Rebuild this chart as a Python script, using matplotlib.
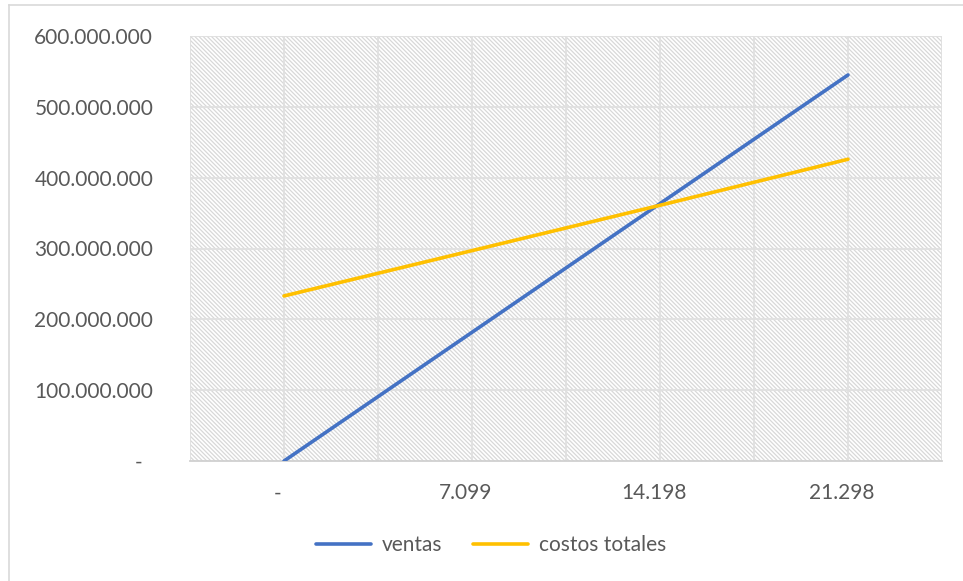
import matplotlib
matplotlib.use("Agg")
import matplotlib.pyplot as plt
from matplotlib.patches import Rectangle
from matplotlib.lines import Line2D
import matplotlib.transforms as mtransforms

categories = ["-", "7.099", "14.198", "21.298"]
ventas = [0, 181_700_000, 363_400_000, 545_000_000]
costos_totales = [233_000_000, 297_000_000, 361_000_000, 426_000_000]
y_ticks = [0, 100_000_000, 200_000_000, 300_000_000, 400_000_000, 500_000_000, 600_000_000]
y_labels = ["-", "100.000.000", "200.000.000", "300.000.000", "400.000.000", "500.000.000", "600.000.000"]

plt.rcParams['font.family'] = ['Lato', 'DejaVu Sans']
plt.rcParams['hatch.linewidth'] = 0.9

W, H = 963, 581
fig = plt.figure(figsize=(W / 100, H / 100), dpi=100)
ax = fig.add_axes([190 / W, 1 - 461 / H, (942 - 190) / W, (461 - 36) / H])

x = list(range(len(categories)))
ax.set_xlim(-0.5, len(categories) - 0.5)
ax.set_ylim(0, 600_000_000)

# hatched plot area
ax.add_patch(Rectangle((0, 0), 1, 1, transform=ax.transAxes, facecolor='white',
                       edgecolor='#D8D8D8', hatch='\\' * 8, linewidth=0, zorder=0))

# gridlines
grid_x = [i * 0.5 - 0.5 for i in range(2 * len(categories) + 1)]
for gx in grid_x:
    ax.axvline(gx, color='#E0E0E0', lw=1.3, zorder=1)
for gy in y_ticks[1:]:
    ax.axhline(gy, color='#E0E0E0', lw=1.3, zorder=1)

ax.plot(x, ventas, color='#4472C4', lw=2.6, solid_capstyle='round', zorder=3, label='ventas')
ax.plot(x, costos_totales, color='#FFC000', lw=2.6, solid_capstyle='round', zorder=3, label='costos totales')

for s in ['top', 'right', 'left']:
    ax.spines[s].set_visible(False)
ax.spines['bottom'].set_color('#D0D0D0')
ax.spines['bottom'].set_linewidth(1.3)

ax.set_xticks(x)
ax.set_xticklabels(categories)
ax.set_yticks(y_ticks)
ax.set_yticklabels(y_labels)
ax.tick_params(axis='both', length=0, labelsize=15, labelcolor='#595959')
ax.tick_params(axis='x', pad=16)
ax.tick_params(axis='y', pad=26.5)

off = mtransforms.ScaledTranslation(-6 / 100, 0, fig.dpi_scale_trans)
for lab in ax.get_xticklabels():
    lab.set_transform(lab.get_transform() + off)
yl = ax.get_yticklabels()
off0 = mtransforms.ScaledTranslation(-11 / 100, 0, fig.dpi_scale_trans)
yl[0].set_transform(yl[0].get_transform() + off0)

leg = fig.legend(loc='center', bbox_to_anchor=(491 / W, 1 - 545 / H), ncol=2, frameon=False,
                 fontsize=15, labelcolor='#595959', handlelength=2.65, columnspacing=1.5,
                 handletextpad=0.5)

# chart border
fig.add_artist(Line2D([9 / W, 1], [1 - 5 / H, 1 - 5 / H], color='#D9D9D9', lw=1.2, transform=fig.transFigure))
fig.add_artist(Line2D([9 / W, 9 / W], [0, 1 - 5 / H], color='#D9D9D9', lw=1.2, transform=fig.transFigure))

fig.savefig('out.png', dpi=100)
